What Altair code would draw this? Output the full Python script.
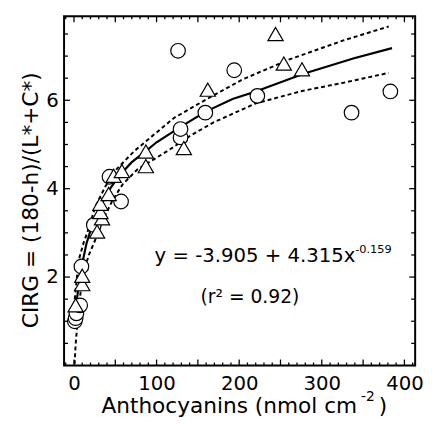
import altair as alt
import pandas as pd

# ---- data ----
circle_x = [1, 2, 3, 7.5, 9, 24, 43, 57, 126, 129, 129, 159, 194, 222, 336, 383]
circle_y = [1.0, 1.07, 1.18, 1.36, 2.24, 3.18, 4.27, 3.71, 7.12, 5.16, 5.35, 5.72, 6.68, 6.1, 5.72, 6.2]

tri_x = [2, 10, 10, 28, 34, 32, 32, 42, 48, 58, 87, 87, 133, 162, 244, 254, 276]
tri_y = [1.36, 1.84, 2.03, 3.03, 3.33, 3.47, 3.66, 3.88, 4.29, 4.4, 4.51, 4.84, 4.92, 6.24, 7.5, 6.83, 6.7]

fit_x = [1, 2, 5, 10, 15, 20, 30, 40, 55, 70, 87, 100, 129, 160, 192, 220, 278, 339, 385]
fit_y = [1.0, 1.3, 1.7, 2.3, 2.75, 3.05, 3.5, 3.9, 4.3, 4.6, 4.85, 5.05, 5.4, 5.75, 6.03, 6.2, 6.6, 6.95, 7.18]

upper_x = [1, 3, 6, 12, 16, 26, 38, 52, 73, 89, 121, 161, 204, 260, 327, 381]
upper_y = [1.5, 1.9, 2.4, 2.8, 3.0, 3.6, 4.05, 4.45, 4.85, 5.1, 5.6, 6.03, 6.47, 6.92, 7.36, 7.67]

lower_x = [0.8, 2, 4, 8, 14, 18, 26, 35, 47, 59, 77, 113, 141, 169, 220, 276, 327, 381]
lower_y = [0.03, 0.47, 0.92, 1.66, 2.25, 2.5, 2.85, 3.29, 3.75, 4.1, 4.44, 4.85, 5.2, 5.5, 5.93, 6.21, 6.4, 6.62]

x_labels = [0, 100, 200, 300, 400]
y_labels = [2, 4, 6]
x_major = [0, 50, 100, 150, 200, 250, 300, 350, 400]
x_minor = [v for v in range(-10, 411, 10) if v % 50 != 0]
y_major = [2, 4, 6]
y_minor = [0.5, 1, 1.5, 2.5, 3, 3.5, 4.5, 5, 5.5, 6.5, 7, 7.5]

x_title = ["Anthocyanins (nmol cm", "-2", ")"]
y_title = "CIRG = (180-h)/(L*+C*)"
eq_main = "y = -3.905 + 4.315x"
eq_sup = "-0.159"
r2_text = "(r² = 0.92)"

W, H = 357, 355
FONT = "DejaVu Sans"

xs = alt.Scale(domain=[-12, 413], nice=False, zero=False)
ys = alt.Scale(domain=[0, 7.9], nice=False, zero=False)

circles = pd.DataFrame({"x": circle_x, "y": circle_y})
tris = pd.DataFrame({"x": tri_x, "y": tri_y})
fit = pd.DataFrame({"x": fit_x, "y": fit_y})
upper = pd.DataFrame({"x": upper_x, "y": upper_y})
lower = pd.DataFrame({"x": lower_x, "y": lower_y})

x_axis = alt.Axis(values=x_labels, ticks=False, domain=False, grid=False,
                  labelFontSize=20, labelFont=FONT, labelColor="black", labelPadding=8,
                  title=None)
y_axis = alt.Axis(values=y_labels, ticks=False, domain=False, grid=False,
                  labelFontSize=20, labelFont=FONT, labelColor="black", labelPadding=6,
                  title=None)

px = alt.X("x:Q", scale=xs)
py = alt.Y("y:Q", scale=ys)

upper_line = alt.Chart(upper).mark_line(color="black", strokeWidth=2, strokeDash=[4, 3]).encode(
    x=alt.X("x:Q", scale=xs, axis=x_axis), y=alt.Y("y:Q", scale=ys, axis=y_axis))
lower_line = alt.Chart(lower).mark_line(color="black", strokeWidth=2, strokeDash=[4, 3]).encode(
    x=px, y=py)
fit_line = alt.Chart(fit).mark_line(color="black", strokeWidth=2.2).encode(x=px, y=py)

circ = alt.Chart(circles).mark_point(shape="circle", size=220, filled=False, fill="white",
                                     fillOpacity=1, stroke="black", strokeWidth=1.2, opacity=1).encode(
    x=px, y=py)
tri = alt.Chart(tris).mark_point(shape="triangle-up", size=240, filled=False, fill="white",
                                 fillOpacity=1, stroke="black", strokeWidth=1.2, opacity=1).encode(
    x=px, y=py)

# inward ticks on all four sides
def xticks(vals, length):
    d = pd.DataFrame({"x": vals})
    b = alt.Chart(d).mark_rule(color="black", strokeWidth=1.3).encode(
        x=px, y=alt.value(H), y2=alt.value(H - length))
    t = alt.Chart(d).mark_rule(color="black", strokeWidth=1.3).encode(
        x=px, y=alt.value(0), y2=alt.value(length))
    return b + t

def yticks(vals, length):
    d = pd.DataFrame({"y": vals})
    l = alt.Chart(d).mark_rule(color="black", strokeWidth=1.3).encode(
        y=py, x=alt.value(0), x2=alt.value(length))
    r = alt.Chart(d).mark_rule(color="black", strokeWidth=1.3).encode(
        y=py, x=alt.value(W), x2=alt.value(W - length))
    return l + r

ticks = xticks(x_major, 6) + xticks(x_minor, 3) + yticks(y_major, 6) + yticks(y_minor, 4)

frame = alt.Chart(pd.DataFrame({"f": [1]})).mark_rect(fill=None, fillOpacity=0, stroke="black",
                                                       strokeWidth=2).encode(
    x=alt.value(0), x2=alt.value(W), y=alt.value(0), y2=alt.value(H))

def label(text, size, x, y, align="left", baseline="alphabetic", angle=0):
    return alt.Chart(pd.DataFrame({"t": [text]})).mark_text(
        font=FONT, fontSize=size, align=align, baseline=baseline, color="black", angle=angle).encode(
        text="t:N", x=alt.value(x), y=alt.value(y))

eq = label(eq_main, 20, 92, 250)
sup = label(eq_sup, 11.5, 296, 241)
r2 = label(r2_text, 19, 189, 285, align="center", baseline="middle")

xt_main = label(x_title[0], 22, 38, 403)
xt_sup = label(x_title[1], 14, 302, 391)
xt_close = label(x_title[2], 22, 320, 403)
yt = label(y_title, 22, -33, 187, align="center", baseline="middle", angle=270)

chart = alt.layer(upper_line, lower_line, fit_line, ticks, circ, tri,
                  eq, sup, r2, xt_main, xt_sup, xt_close, yt, frame).properties(
    width=W, height=H,
    autosize=alt.AutoSizeParams(type="none"),
    padding={"left": 57, "top": 5, "right": 9, "bottom": 52},
).configure_view(strokeWidth=0).configure(background="white")

chart.save("out.html", embed_options={"renderer": "svg", "actions": False})
